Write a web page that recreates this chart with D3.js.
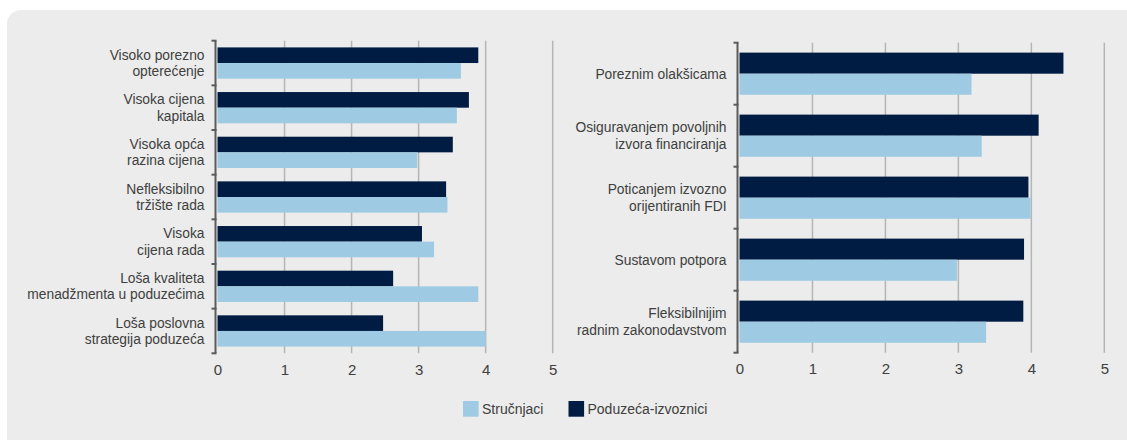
<!DOCTYPE html>
<html>
<head>
<meta charset="utf-8">
<script src="https://cdn.jsdelivr.net/npm/d3@7"></script>
<style>
  body { margin: 0; background: #fff; }
  svg text { font-family: "Liberation Sans Narrow", "Arial Narrow", sans-serif; fill: #404040; }
</style>
</head>
<body>
<svg id="chart" width="1127" height="440"></svg>
<script>
// DATA
const seriesNames = ['Stručnjaci', 'Poduzeća-izvoznici'];
const seriesColors = ['#9ecbe3', '#001c43'];

const leftCategories = [
  'Visoko porezno\nopterećenje',
  'Visoka cijena\nkapitala',
  'Visoka opća\nrazina cijena',
  'Nefleksibilno\ntržište rada',
  'Visoka\ncijena rada',
  'Loša kvaliteta\nmenadžmenta u poduzećima',
  'Loša poslovna\nstrategija poduzeća'
];
const leftExporters = [3.89, 3.75, 3.51, 3.41, 3.05, 2.62, 2.47];
const leftExperts   = [3.63, 3.57, 2.98, 3.43, 3.23, 3.89, 4.00];

const rightCategories = [
  'Poreznim olakšicama',
  'Osiguravanjem povoljnih\nizvora financiranja',
  'Poticanjem izvozno\norijentiranih FDI',
  'Sustavom potpora',
  'Fleksibilnijim\nradnim zakonodavstvom'
];
const rightExporters = [4.44, 4.10, 3.96, 3.90, 3.89];
const rightExperts   = [3.18, 3.32, 3.99, 2.98, 3.38];

const xTicks = [0, 1, 2, 3, 4, 5];

const svg = d3.select('#chart');

// grey card behind everything
svg.append('rect')
  .attr('x', 7).attr('y', 10)
  .attr('width', 1140).attr('height', 460)
  .attr('rx', 14)
  .attr('fill', '#ebeceb');

function drawPanel(cats, exporters, experts, o) {
  const g = svg.append('g');

  const x = d3.scaleLinear().domain([0, 5]).range([o.x0, o.x5]);
  const y = d3.scaleBand().domain(cats).range([o.top, o.bottom])
    .paddingInner(o.padInner).paddingOuter(o.padInner / 2);
  const ySub = d3.scaleBand().domain(['dark', 'light']).range([0, y.bandwidth()]);

  // gridlines
  g.selectAll('.grid').data(xTicks.slice(1)).join('line')
    .attr('x1', d => x(d)).attr('x2', d => x(d))
    .attr('y1', o.top).attr('y2', o.bottom)
    .attr('stroke', '#b4b6b6').attr('stroke-width', 1.5);

  // bars
  const rows = cats.map((c, i) => ({ c, dark: exporters[i], light: experts[i] }));
  const row = g.selectAll('.row').data(rows).join('g')
    .attr('transform', d => `translate(0,${y(d.c)})`);
  row.append('rect')
    .attr('x', x(0)).attr('y', ySub('dark'))
    .attr('width', d => x(d.dark) - x(0)).attr('height', ySub.bandwidth())
    .attr('fill', seriesColors[1]);
  row.append('rect')
    .attr('x', x(0)).attr('y', ySub('light'))
    .attr('width', d => x(d.light) - x(0)).attr('height', ySub.bandwidth())
    .attr('fill', seriesColors[0]);

  // vertical axis with boundary ticks
  const ax = x(0) - 2;
  g.append('line')
    .attr('x1', ax).attr('x2', ax).attr('y1', o.top).attr('y2', o.bottom)
    .attr('stroke', '#5b5b5b').attr('stroke-width', 2);
  const bounds = d3.range(cats.length + 1).map(i => o.top + i * y.step());
  g.selectAll('.btick').data(bounds).join('line')
    .attr('x1', ax - 4).attr('x2', ax + 1)
    .attr('y1', d => d).attr('y2', d => d)
    .attr('stroke', '#5b5b5b').attr('stroke-width', 2);

  // category labels
  const lab = g.selectAll('.lab').data(cats).join('text')
    .attr('text-anchor', 'end')
    .attr('font-size', 13.8);
  lab.each(function(d) {
    const lines = d.split('\n');
    const cy = y(d) + y.bandwidth() / 2;
    const lh = 16.5;
    d3.select(this).selectAll('tspan').data(lines).join('tspan')
      .attr('x', ax - 11)
      .attr('y', (l, i) => cy + (i - (lines.length - 1) / 2) * lh)
      .attr('dy', '0.35em')
      .text(l => l);
  });

  // x axis labels
  const xa = g.append('g')
    .attr('transform', `translate(0,${o.bottom})`)
    .call(d3.axisBottom(x).tickValues(xTicks).tickSize(0).tickPadding(11).tickFormat(d3.format('d')));
  xa.select('.domain').remove();
  xa.selectAll('text').attr('font-size', 15).attr('font-family', null).style('fill', '#404040');
}

drawPanel(leftCategories, leftExporters, leftExperts,
  { x0: 217.5, x5: 552.7, top: 40.7, bottom: 353.3, padInner: 0.3 });
drawPanel(rightCategories, rightExporters, rightExperts,
  { x0: 739.5, x5: 1104.3, top: 42.7, bottom: 352.7, padInner: 0.32 });

// legend
const legend = svg.append('g').attr('transform', 'translate(463,401)');
const legendX = [0, 105.5];
seriesNames.forEach((name, i) => {
  legend.append('rect')
    .attr('x', legendX[i]).attr('y', 0)
    .attr('width', 15.6).attr('height', 15.7)
    .attr('fill', seriesColors[i]);
  legend.append('text')
    .attr('x', legendX[i] + 19).attr('y', 8)
    .attr('dy', '0.36em')
    .attr('font-size', 14)
    .text(name);
});
</script>
</body>
</html>
